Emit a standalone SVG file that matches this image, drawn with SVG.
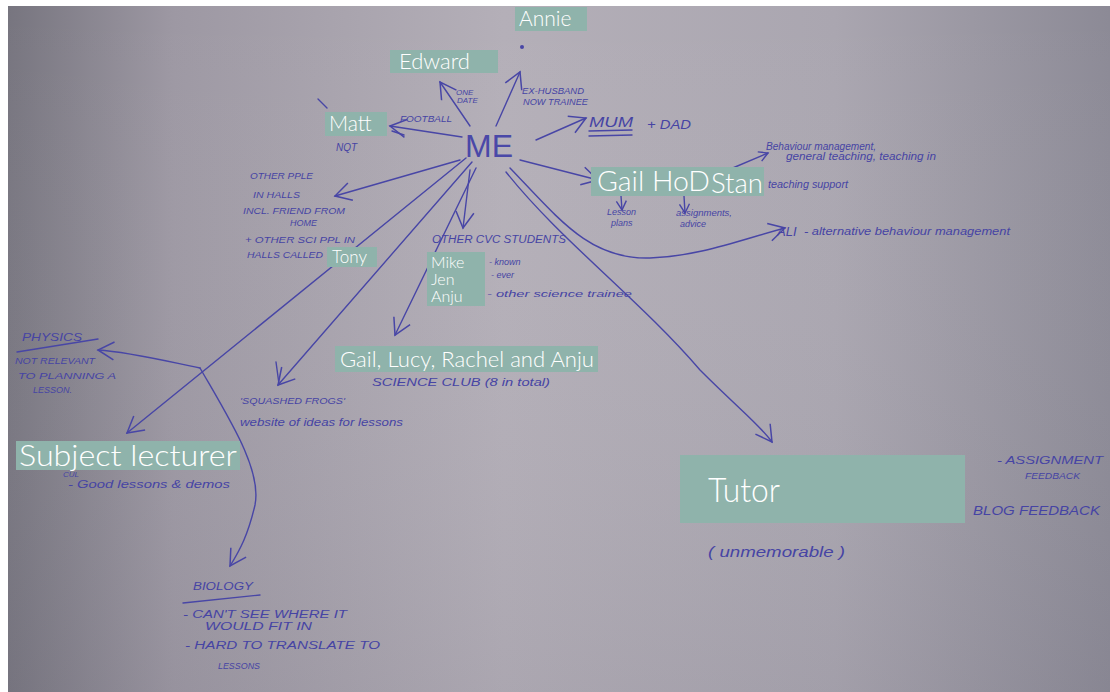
<svg xmlns="http://www.w3.org/2000/svg" width="1110" height="692" viewBox="0 0 1110 692">
<defs>
<linearGradient id="bg" x1="0" y1="0" x2="1" y2="0">
<stop offset="0" stop-color="#77757f"/>
<stop offset="0.15" stop-color="#9d98a3"/>
<stop offset="0.45" stop-color="#b4afb8"/>
<stop offset="0.75" stop-color="#aaa6b0"/>
<stop offset="1" stop-color="#8c8a96"/>
</linearGradient>
<linearGradient id="vshade" x1="0" y1="0" x2="0" y2="1">
<stop offset="0" stop-color="#ffffff" stop-opacity="0"/>
<stop offset="1" stop-color="#6a6878" stop-opacity="0.12"/>
</linearGradient>
<marker id="ah" viewBox="0 0 12 12" refX="10" refY="6" markerWidth="12" markerHeight="12" markerUnits="userSpaceOnUse" orient="auto">
<path d="M1,1 L10,6 L1,11" fill="none" stroke="#4846a6" stroke-width="1.4"/>
</marker>
<marker id="ahb" viewBox="0 0 20 20" refX="17" refY="10" markerWidth="20" markerHeight="20" markerUnits="userSpaceOnUse" orient="auto">
<path d="M1,1 L17,10 L1,19" fill="none" stroke="#4846a6" stroke-width="1.5"/>
</marker>
</defs>
<style>
.box{fill:#8fb3ab;}
.lbl{font-family:Lato,"Open Sans","Liberation Sans",sans-serif;font-weight:300;fill:#ffffff;}
.hw{font-family:"Liberation Sans",sans-serif;font-style:italic;fill:#4644a4;}
.me{font-family:"Liberation Sans",sans-serif;font-weight:normal;fill:#4a48a8;}
.pen{fill:none;stroke:#4846a6;stroke-width:1.4;stroke-linecap:round;}
</style>
<rect width="1110" height="692" fill="#ffffff"/>
<rect x="8" y="6" width="1102" height="686" fill="url(#bg)"/>
<rect x="8" y="6" width="1102" height="686" fill="url(#vshade)"/>

<g id="connectors">
<path class="pen" d="M470,126 L440,82" marker-end="url(#ahb)"/>
<path class="pen" d="M496,126 L520,72" marker-end="url(#ahb)"/>
<path class="pen" d="M462,137 L390,126" marker-end="url(#ahb)"/>
<path class="pen" d="M392,131 L404,135"/>
<path class="pen" d="M536,140 L586,118" marker-end="url(#ahb)"/>
<path class="pen" d="M520,160 L598,180" marker-end="url(#ahb)"/>
<path class="pen" d="M728,170 L768,153" marker-end="url(#ah)"/>
<path class="pen" d="M621,196 L622,210" marker-end="url(#ah)"/>
<path class="pen" d="M684,196 L685,213" marker-end="url(#ah)"/>
<path class="pen" d="M510,168 C560,220 590,260 650,258 C700,256 740,240 785,228" marker-end="url(#ahb)"/>
<path class="pen" d="M506,172 C560,240 640,300 700,370 C740,410 760,425 772,442" marker-end="url(#ahb)"/>
<path class="pen" d="M460,160 L335,196" marker-end="url(#ahb)"/>
<path class="pen" d="M470,170 L463,228" marker-end="url(#ahb)"/>
<path class="pen" d="M476,168 L395,335" marker-end="url(#ahb)"/>
<path class="pen" d="M472,162 L278,385" marker-end="url(#ahb)"/>
<path class="pen" d="M276,362 L279,384"/>
<path class="pen" d="M466,158 L127,433" marker-end="url(#ahb)"/>
<path class="pen" d="M200,368 C170,362 130,352 98,350" marker-end="url(#ahb)"/>
<path class="pen" d="M200,368 C230,420 262,470 255,505 C248,535 240,550 230,566" marker-end="url(#ahb)"/>
<path class="pen" d="M318,99 L327,108"/>
</g>

<g id="me"><text class="me" x="465" y="157" font-size="32">ME</text></g>

<g id="annie"><rect class="box" x="515" y="7" width="72" height="24"/><text class="lbl" x="519" y="26" font-size="21">Annie</text>
<circle cx="522" cy="47" r="2" fill="#4846a6"/>
<text class="hw" x="522" y="94" font-size="9" textLength="62" lengthAdjust="spacingAndGlyphs">EX-HUSBAND</text><text class="hw" x="523" y="105" font-size="9" textLength="65" lengthAdjust="spacingAndGlyphs">NOW TRAINEE</text></g>

<g id="edward"><rect class="box" x="390" y="50" width="108" height="23"/><text class="lbl" x="399" y="69" font-size="22">Edward</text>
<text class="hw" x="456" y="95" font-size="8">ONE</text><text class="hw" x="457" y="103" font-size="8">DATE</text></g>

<g id="matt"><rect class="box" x="325" y="112" width="62" height="24"/><text class="lbl" x="329" y="131" font-size="21">Matt</text>
<text class="hw" x="336" y="151" font-size="10">NQT</text>
<text class="hw" x="400" y="122" font-size="9" textLength="52" lengthAdjust="spacingAndGlyphs">FOOTBALL</text></g>

<g id="mum"><text class="hw" x="589" y="127" font-size="14" textLength="44" lengthAdjust="spacingAndGlyphs">MUM</text>
<path class="pen" d="M589,131 L632,130 M589,136 L632,135"/>
<text class="hw" x="647" y="129" font-size="13" textLength="44" lengthAdjust="spacingAndGlyphs">+ DAD</text></g>

<g id="gail-hod-stan"><rect class="box" x="591" y="167" width="173" height="29"/>
<text class="lbl" x="597" y="191" font-size="27" textLength="113" lengthAdjust="spacingAndGlyphs">Gail HoD</text><text class="lbl" x="711" y="193" font-size="27" textLength="52" lengthAdjust="spacingAndGlyphs">Stan</text>
<text class="hw" x="766" y="150" font-size="10" textLength="110" lengthAdjust="spacingAndGlyphs">Behaviour management,</text>
<text class="hw" x="786" y="160" font-size="10" textLength="150" lengthAdjust="spacingAndGlyphs">general teaching, teaching in</text>
<text class="hw" x="768" y="188" font-size="10" textLength="80" lengthAdjust="spacingAndGlyphs">teaching support</text>
<text class="hw" x="607" y="215" font-size="9">Lesson</text><text class="hw" x="611" y="226" font-size="9">plans</text>
<text class="hw" x="676" y="216" font-size="9" textLength="56" lengthAdjust="spacingAndGlyphs">assignments,</text><text class="hw" x="680" y="227" font-size="9">advice</text>
<text class="hw" x="777" y="236" font-size="13">ALI</text><text class="hw" x="804" y="235" font-size="11" textLength="206" lengthAdjust="spacingAndGlyphs">- alternative behaviour management</text></g>

<g id="halls"><text class="hw" x="250" y="179" font-size="9" textLength="63" lengthAdjust="spacingAndGlyphs">OTHER PPLE</text>
<text class="hw" x="253" y="198" font-size="9" textLength="47" lengthAdjust="spacingAndGlyphs">IN HALLS</text>
<text class="hw" x="243" y="214" font-size="9" textLength="102" lengthAdjust="spacingAndGlyphs">INCL. FRIEND FROM</text>
<text class="hw" x="290" y="226" font-size="9">HOME</text>
<text class="hw" x="245" y="243" font-size="9" textLength="110" lengthAdjust="spacingAndGlyphs">+ OTHER SCI PPL IN</text>
<text class="hw" x="247" y="258" font-size="9" textLength="76" lengthAdjust="spacingAndGlyphs">HALLS CALLED</text></g>

<g id="tony"><rect class="box" x="327" y="247" width="50" height="20"/><text class="lbl" x="332" y="263" font-size="17">Tony</text></g>

<g id="cvc"><text class="hw" x="432" y="243" font-size="10" textLength="134" lengthAdjust="spacingAndGlyphs">OTHER CVC STUDENTS</text>
<rect class="box" x="427" y="252" width="58" height="54"/>
<text class="lbl" x="431" y="268" font-size="16">Mike</text><text class="lbl" x="431" y="285" font-size="16">Jen</text><text class="lbl" x="431" y="302" font-size="16">Anju</text>
<text class="hw" x="489" y="265" font-size="9">- known</text>
<text class="hw" x="491" y="278" font-size="9">- ever</text>
<text class="hw" x="487" y="297" font-size="9" textLength="145" lengthAdjust="spacingAndGlyphs">- other science trainee</text></g>

<g id="science-club"><rect class="box" x="335" y="346" width="263" height="26"/>
<text class="lbl" x="340" y="367" font-size="21" textLength="254" lengthAdjust="spacingAndGlyphs">Gail, Lucy, Rachel and Anju</text>
<text class="hw" x="372" y="386" font-size="11" textLength="178" lengthAdjust="spacingAndGlyphs">SCIENCE CLUB (8 in total)</text></g>

<g id="physics"><text class="hw" x="22" y="341" font-size="11" textLength="60" lengthAdjust="spacingAndGlyphs">PHYSICS</text>
<path class="pen" d="M17,352 L98,339"/>
<text class="hw" x="15" y="364" font-size="9" textLength="80" lengthAdjust="spacingAndGlyphs">NOT RELEVANT</text>
<text class="hw" x="18" y="379" font-size="9" textLength="98" lengthAdjust="spacingAndGlyphs">TO PLANNING A</text>
<text class="hw" x="33" y="393" font-size="9">LESSON.</text></g>

<g id="frogs"><text class="hw" x="240" y="404" font-size="9" textLength="105" lengthAdjust="spacingAndGlyphs">'SQUASHED FROGS'</text>
<text class="hw" x="240" y="426" font-size="11" textLength="163" lengthAdjust="spacingAndGlyphs">website of ideas for lessons</text></g>

<g id="subject-lecturer"><rect class="box" x="16" y="441" width="224" height="29"/>
<text class="lbl" x="19" y="466" font-size="30" textLength="218" lengthAdjust="spacingAndGlyphs">Subject lecturer</text>
<text class="hw" x="63" y="477" font-size="8">CUL</text>
<text class="hw" x="68" y="488" font-size="10" textLength="162" lengthAdjust="spacingAndGlyphs">- Good lessons &amp; demos</text></g>

<g id="biology"><text class="hw" x="193" y="590" font-size="11" textLength="60" lengthAdjust="spacingAndGlyphs">BIOLOGY</text>
<path class="pen" d="M183,603 L260,595"/>
<text class="hw" x="183" y="618" font-size="10" textLength="164" lengthAdjust="spacingAndGlyphs">- CAN'T SEE WHERE IT</text>
<text class="hw" x="205" y="630" font-size="10" textLength="107" lengthAdjust="spacingAndGlyphs">WOULD FIT IN</text>
<text class="hw" x="185" y="649" font-size="10" textLength="195" lengthAdjust="spacingAndGlyphs">- HARD TO TRANSLATE TO</text>
<text class="hw" x="218" y="669" font-size="9" textLength="42" lengthAdjust="spacingAndGlyphs">LESSONS</text></g>

<g id="tutor"><rect class="box" x="680" y="455" width="285" height="68"/>
<text class="lbl" x="708" y="502" font-size="34" textLength="72" lengthAdjust="spacingAndGlyphs">Tutor</text>
<text class="hw" x="708" y="557" font-size="14" textLength="137" lengthAdjust="spacingAndGlyphs">( unmemorable )</text>
<text class="hw" x="997" y="464" font-size="10" textLength="106" lengthAdjust="spacingAndGlyphs">- ASSIGNMENT</text>
<text class="hw" x="1025" y="479" font-size="9" textLength="55" lengthAdjust="spacingAndGlyphs">FEEDBACK</text>
<text class="hw" x="973" y="515" font-size="12" textLength="127" lengthAdjust="spacingAndGlyphs">BLOG FEEDBACK</text></g>
</svg>
